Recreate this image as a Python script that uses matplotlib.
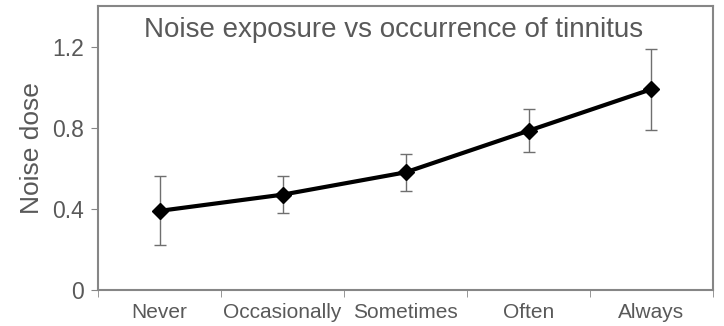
import matplotlib
matplotlib.use("Agg")
import matplotlib.pyplot as plt
import numpy as np

plt.rcParams['font.family'] = ['Liberation Sans', 'DejaVu Sans']

categories = ["Never", "Occasionally", "Sometimes", "Often", "Always"]
noise_dose = [0.39, 0.47, 0.58, 0.785, 0.99]
dose_err = [0.17, 0.09, 0.09, 0.105, 0.20]

text_color = "#595959"
spine_color = "#868686"

fig = plt.figure(figsize=(7.24, 3.26), dpi=100)
ax = fig.add_axes([0.1354, 0.1104, 0.8494, 0.8712])

x = np.arange(len(categories))
ax.errorbar(x, noise_dose, yerr=dose_err, fmt="none", ecolor="#6f6f6f",
            elinewidth=1.0, capsize=4, capthick=1.0, zorder=2)
ax.plot(x, noise_dose, color="black", linewidth=3.0, marker="D",
        markersize=8, zorder=3)

ax.set_xlim(-0.5, len(categories) - 0.5)
ax.set_ylim(0, 1.4)
ax.set_yticks([0, 0.4, 0.8, 1.2])
ax.set_yticklabels(["0", "0.4", "0.8", "1.2"])

# category labels centred, tick marks on category boundaries
ax.set_xticks(x)
ax.set_xticklabels(categories)
ax.set_xticks(np.arange(-0.5, len(categories)), minor=True)
ax.tick_params(axis="x", which="major", length=0, pad=9,
               labelsize=15, labelcolor=text_color)
ax.tick_params(axis="x", which="minor", length=5, color=spine_color,
               direction="out")
ax.tick_params(axis="y", length=5, color=spine_color, direction="out",
               labelsize=16.5, labelcolor=text_color, pad=5)

for s in ax.spines.values():
    s.set_color(spine_color)
    s.set_linewidth(1.5)

ax.set_ylabel("Noise dose", fontsize=19, color=text_color, labelpad=6)
ax.text(0.481, 0.96, "Noise exposure vs occurrence of tinnitus",
        transform=ax.transAxes, ha="center", va="top",
        fontsize=20, color=text_color)

fig.savefig("out.png", dpi=100)
